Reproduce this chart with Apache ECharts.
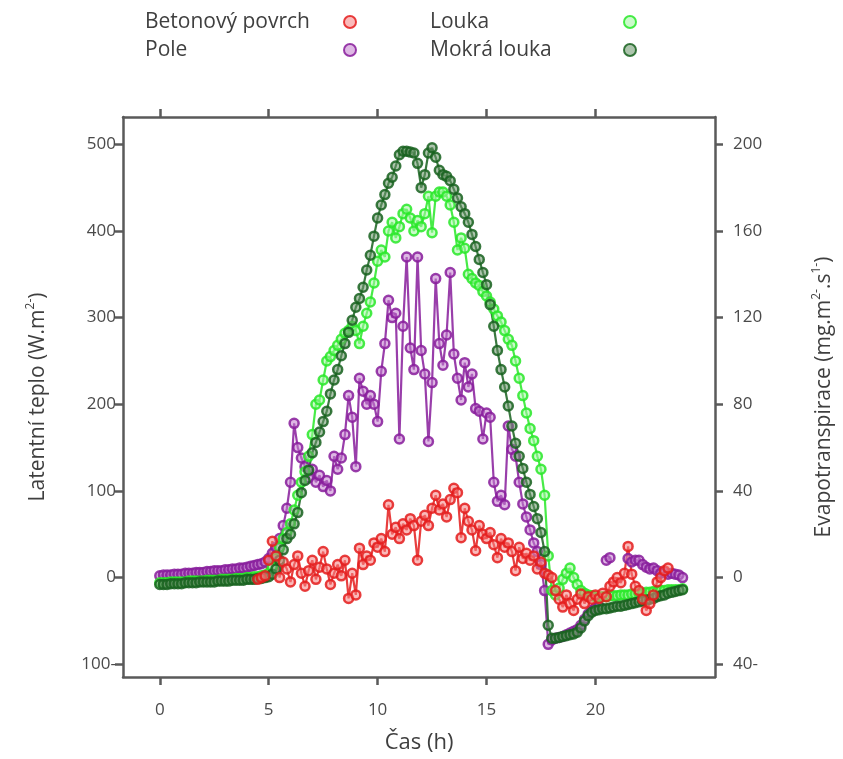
<!DOCTYPE html>
<html><head><meta charset="utf-8">
<script src="https://cdn.jsdelivr.net/npm/echarts@6/dist/echarts.min.js"></script>
<style>html,body{margin:0;padding:0;background:#fff}#c{width:843px;height:759px}</style>
</head><body><div id="c"></div>
<script>
// time of each sample in minutes
const timeMin = [0,10,20,30,40,50,60,70,80,90,100,110,120,130,140,150,160,170,180,190,200,210,220,230,
240,250,260,270,280,290,300,310,320,330,340,350,360,370,380,390,400,410,420,430,440,450,460,470,
480,490,500,510,520,530,540,550,560,570,580,590,600,610,620,630,640,650,660,670,680,690,700,710,
720,730,740,750,760,770,780,790,800,810,820,830,840,850,860,870,880,890,900,910,920,930,940,950,
960,970,980,990,1000,1010,1020,1030,1040,1050,1060,1070,1080,1090,1100,1110,1120,1130,1140,1150,1160,1170,1180,1190,
1200,1210,1220,1230,1240,1250,1260,1270,1280,1290,1300,1310,1320,1330,1340,1350,1360,1370,1380,1390,1400,1410,1420,1430,1440];

const seriesNames = ['Betonový povrch','Pole','Louka','Mokrá louka'];

const beton = [null,null,null,null,null,null, null,null,null,null,null,null, null,null,null,null,null,null, null,null,null,null,null,null,
null,null,null,-2,0,2, 20,42,25,0,18,10, -5,15,25,5,-10,8, 20,-2,12,30,10,-8, 5,15,2,20,-24,5,
-20,34,15,25,20,40, 35,45,30,84,50,58, 45,62,55,68,60,20, 65,72,60,80,95,78, 85,70,90,103,98,46,
80,65,55,31,60,50, 45,52,38,23,45,35, 40,30,8,35,22,28, 20,25,10,18,5,3, 0,-15,-25,-34,-20,-30,
-38,-25,-19,-30,-22,-25, -20,-24,-18,-22,-10,-5, 0,-6,5,36,4,-10, -15,-25,-38,-30,-20,-5, 0,8,11,null,null,null, null];

const pole = [2,3,3,3,4,4, 4,5,5,5,6,6, 6,7,7,8,8,8, 9,9,10,10,11,11, 12,13,14,15,16,18,
22,28,35,45,60,80, 110,178,150,138,128,115, 125,110,118,105,112,100, 140,125,138,165,210,185,
128,230,215,200,210,200, 180,238,270,320,300,305, 160,290,370,265,240,370, 262,235,157,225,345,270,
245,280,352,258,230,205, 248,220,235,195,192,160, 190,185,110,88,95,84, 175,148,140,110,85,70,
55,40,30,15,-15,-77, -72,-70,-69,-68,-66,-64, -62,-60,-55,-48,-42,-38, -35,-33,null,20,23,null,
null,null,null,22,18,20, 20,15,12,10,11,8, 5,6,4,5,4,3, 0];

const louka = [-6,-6,-6,-5,-5,-5, -5,-5,-4,-4,-4,-4, -4,-3,-3,-3,-3,-2, -2,-2,-2,-1,-1,-1, 0,0,1,1,2,3,
5,12,22,35,45,52, 62,78,95,110,122,140, 165,200,205,228,250,255, 262,268,275,282,285,290,
285,270,290,305,318,340, 365,378,370,400,410,392, 405,420,425,415,400,412, 405,420,440,398,440,445,
445,440,430,410,378,392, 380,350,345,340,337,330, 325,318,310,302,295,285, 275,268,250,230,210,190,
172,158,140,125,95,25, -15,-20,-12,-2,5,11, 0,-8,-15,-18,-20,-21, -22,-22,-22,-22,-21,-21,
-21,-20,-20,-20,-19,-19, -18,-18,-17,-17,-16,-16, -15,-15,-14,-14,-14,-14, -13];

const mokra = [-8,-8,-8,-7,-7,-7, -7,-6,-6,-6,-6,-5, -5,-5,-5,-5,-4,-4, -4,-4,-3,-3,-3,-3, -2,-2,-2,-1,-1,0,
1,4,10,20,32,45, 50,62,75,98,112,124, 144,156,168,180,192,212, 228,240,256,270,283,297,
312,322,335,355,372,394, 415,430,442,455,462,475, 488,492,492,491,490,478, 450,465,490,496,485,470,
465,463,458,448,438,428, 420,410,396,382,367,352, 338,315,290,262,240,220, 198,175,155,140,126,110,
96,82,68,52,30,-55, -70,-70,-69,-68,-67,-66, -65,-63,-58,-50,-44,-40, -38,-37,-36,-36,-35,-34,
-33,-33,-32,-31,-30,-29, -28,-27,-26,-25,-24,-22, -21,-20,-18,-17,-16,-15, -14];

const xTicks = [0,5,10,15,20];
const leftTicks = [-100,0,100,200,300,400,500];
const rightTicks = [-40,0,40,80,120,160,200];

const xMin = -1.69, xMax = 25.49;
const yMin = -114.7, yMax = 531.5;
const etFactor = 0.4;

function pairs(arr){ return arr.map((v,i)=>[timeMin[i]/60, v===null?'-':v]); }
const negFmt = v => v < 0 ? (Math.abs(v) + '-') : String(v);

const styles = {
  'Betonový povrch': {stroke:'rgba(228,28,28,0.85)', fill:'rgba(245,130,130,0.55)'},
  'Pole': {stroke:'rgba(135,28,155,0.85)', fill:'rgba(195,125,205,0.55)'},
  'Louka': {stroke:'rgba(40,232,40,0.85)', fill:'rgba(160,245,160,0.55)'},
  'Mokrá louka': {stroke:'rgba(24,98,30,0.85)', fill:'rgba(105,150,105,0.55)'}
};
function mk(name, arr){
  const s = styles[name];
  return {
    name, type:'line', data: pairs(arr), symbol:'circle', symbolSize:9, showSymbol:true,
    connectNulls:false, animation:false,
    itemStyle:{color:s.fill, borderColor:s.stroke, borderWidth:2.5},
    lineStyle:{color:s.stroke, width:2.2},
    emphasis:{disabled:true}
  };
}

const FONT = 'Open Sans';
const axisLine = {show:true, onZero:false, lineStyle:{color:'#5a5a5a', width:2.5}};
const tickStyle = {color:'#5a5a5a', width:2.5};
const labelStyle = {color:'#4a4a4a', fontSize:17, fontFamily:FONT};
const nameStyle = {color:'#3f3f3f', fontSize:21, fontFamily:FONT,
  rich:{a:{fontSize:21, fontFamily:FONT, color:'#3f3f3f', lineHeight:26}, s:{fontSize:12, fontFamily:FONT, color:'#3f3f3f', verticalAlign:'top', lineHeight:26}}};

const legendBase = {
  orient:'vertical', top:10, padding:0, align:'right', icon:'circle', itemWidth:12, itemHeight:12,
  itemGap:4, selectedMode:false, formatter:'{t|{name}}'
};
function legendText(w){
  return {color:'#3f3f3f', fontFamily:FONT, fontSize:21, lineHeight:24,
    rich:{t:{width:w, align:'left', fontSize:21, fontFamily:FONT, color:'#3f3f3f', lineHeight:24}}};
}

const chart = echarts.init(document.getElementById('c'), null, {renderer:'canvas'});
chart.setOption({
  animation:false,
  backgroundColor:'#fff',
  grid:{left:123, top:117, width:592, height:563, containLabel:false},
  legend:[
    Object.assign({}, legendBase, {left:145, data:['Betonový povrch','Pole'], textStyle:legendText(194)}),
    Object.assign({}, legendBase, {left:430, data:['Louka','Mokrá louka'], textStyle:legendText(189)})
  ],
  xAxis:[
    {type:'value', position:'bottom', min:xMin, max:xMax, axisLine,
     axisTick:{show:true, inside:false, length:8, lineStyle:tickStyle, customValues:xTicks},
     axisLabel:Object.assign({show:true, margin:25, customValues:xTicks}, labelStyle),
     splitLine:{show:false},
     name:'Čas (h)', nameLocation:'middle', nameGap:55, nameTextStyle:{color:'#3f3f3f', fontSize:22, fontFamily:FONT}},
    {type:'value', position:'top', min:xMin, max:xMax, axisLine,
     axisTick:{show:true, inside:false, length:8, lineStyle:tickStyle, customValues:xTicks},
     axisLabel:{show:false}, splitLine:{show:false}}
  ],
  yAxis:[
    {type:'value', position:'left', min:yMin, max:yMax, axisLine,
     axisTick:{show:true, inside:false, length:8, lineStyle:tickStyle, customValues:leftTicks},
     axisLabel:Object.assign({show:true, margin:7, customValues:leftTicks, formatter:negFmt}, labelStyle),
     splitLine:{show:false},
     name:'{a|Latentní teplo (W.m}{s|2-}{a|)}', nameLocation:'middle', nameGap:72, nameRotate:90, nameTextStyle:nameStyle},
    {type:'value', position:'right', min:yMin*etFactor, max:yMax*etFactor, axisLine,
     axisTick:{show:true, inside:false, length:8, lineStyle:tickStyle, customValues:rightTicks},
     axisLabel:Object.assign({show:true, margin:18, customValues:rightTicks, formatter:negFmt}, labelStyle),
     splitLine:{show:false},
     name:'{a|Evapotranspirace (mg.m}{s|2-}{a|.s}{s|1-}{a|)}', nameLocation:'middle', nameGap:96, nameRotate:90, nameTextStyle:nameStyle}
  ],
  series:[ mk('Pole', pole), mk('Louka', louka), mk('Mokrá louka', mokra), mk('Betonový povrch', beton) ]
});
</script>
</body></html>
